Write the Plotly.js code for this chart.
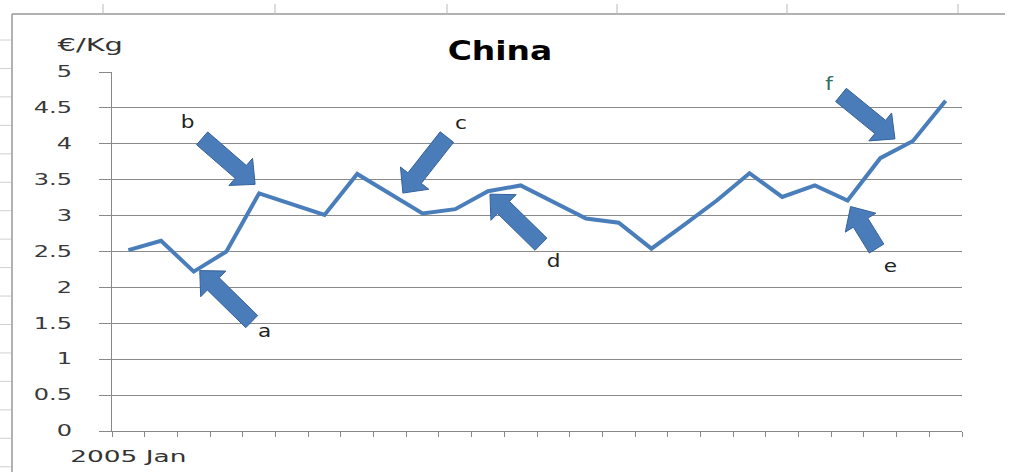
<!DOCTYPE html>
<html>
<head>
<meta charset="utf-8">
<script src="https://cdn.plot.ly/plotly-3.0.1.min.js"></script>
<style>
  html, body { margin: 0; padding: 0; background: #ffffff; }
  #chart { width: 1018px; height: 472px; }
</style>
</head>
<body>
<div id="chart"></div>
<script>
// ---- data ----
const months = [
  "2005 Jan","2005 Feb","2005 Mar","2005 Apr","2005 May","2005 Jun",
  "2005 Jul","2005 Aug","2005 Sep","2005 Oct","2005 Nov","2005 Dec",
  "2006 Jan","2006 Feb","2006 Mar","2006 Apr","2006 May","2006 Jun",
  "2006 Jul","2006 Aug","2006 Sep","2006 Oct","2006 Nov","2006 Dec",
  "2007 Jan","2007 Feb"
];
const priceEurPerKg = [
  2.52, 2.65, 2.22, 2.50, 3.31, 3.16, 3.01, 3.58, 3.30, 3.03,
  3.09, 3.34, 3.42, 3.19, 2.96, 2.90, 2.54, 2.87, 3.21, 3.59,
  3.26, 3.42, 3.21, 3.80, 4.04, 4.60
];
const tickLabels = months.map((m, i) => i === 0 ? m : "");
const yTickVals = [0, 0.5, 1, 1.5, 2, 2.5, 3, 3.5, 4, 4.5, 5];
const chartTitle = "China";
const unitLabel = "€/Kg";
const markLetters = ["a", "b", "c", "d", "e", "f"];
const markIndex = [2, 4, 8, 11, 22, 24];

// ---- layout geometry ----
const W = 1018, H = 472, ML = 112, MR = 56, MT = 72, MB = 41;
const pxX = px => (px - ML) / (W - ML - MR);
const pxY = py => (H - MB - py) / (H - MT - MB);

// block-arrow placement: tip and tail offsets (pixels) from the pointed data point
const arrowStyle = [
  { tip: [6, -1],   tail: [58, 50],    lx: 264, ly: 330, color: "#222" },
  { tip: [-4, -9],  tail: [-57, -55],  lx: 187, ly: 121, color: "#222" },
  { tip: [13, -1],  tail: [57, -57],   lx: 461, ly: 123, color: "#222" },
  { tip: [2, 3],    tail: [53, 53],    lx: 553, ly: 260, color: "#222" },
  { tip: [3, 6],    tail: [29, 48],    lx: 890, ly: 265, color: "#222" },
  { tip: [-18, -2], tail: [-72, -46],  lx: 829, ly: 83,  color: "#2E6F62" }
];
const SHAFT_HALF = 8.5, HEAD_HALF = 18, HEAD_LEN = 19;

const annotations = [];
markLetters.forEach((letter, k) => {
  const s = arrowStyle[k];
  annotations.push({
    x: pxX(s.lx), y: pxY(s.ly), xref: "paper", yref: "paper",
    text: letter, showarrow: false, xanchor: "center", yanchor: "middle",
    font: { family: "DejaVu Sans", size: 18, color: s.color }
  });
});
annotations.push({
  x: pxX(90), y: pxY(45), xref: "paper", yref: "paper",
  text: unitLabel, showarrow: false, xanchor: "center", yanchor: "middle",
  font: { family: "DejaVu Sans", size: 17, color: "#333" }
});

// spreadsheet background lines (decoration)
const baseShapes = [];
baseShapes.push({ type: "line", xref: "paper", yref: "paper",
  x0: pxX(12), x1: pxX(1005), y0: pxY(14), y1: pxY(14),
  line: { color: "#999", width: 1.5 } });
baseShapes.push({ type: "line", xref: "paper", yref: "paper",
  x0: pxX(12), x1: pxX(12), y0: pxY(14), y1: pxY(472),
  line: { color: "#999", width: 1.5 } });
[103, 275, 447, 617, 787, 958].forEach(px => baseShapes.push({
  type: "line", xref: "paper", yref: "paper",
  x0: pxX(px), x1: pxX(px), y0: pxY(4), y1: pxY(14),
  line: { color: "#b8b8b8", width: 1 } }));
for (let k = 0; k < 16; k++) {
  const py = 40 + k * 28.45;
  baseShapes.push({ type: "line", xref: "paper", yref: "paper",
    x0: pxX(0), x1: pxX(11), y0: pxY(py), y1: pxY(py),
    line: { color: "#d0d0d0", width: 1 } });
}

const trace = {
  x: months, y: priceEurPerKg, type: "scatter", mode: "lines",
  line: { color: "#4A7EBB", width: 4, shape: "linear" },
  hoverinfo: "x+y"
};

const layout = {
  width: W, height: H,
  margin: { l: ML, r: MR, t: MT, b: MB, pad: 0 },
  paper_bgcolor: "#ffffff", plot_bgcolor: "#ffffff",
  showlegend: false,
  title: {
    text: "<b>" + chartTitle + "</b>",
    font: { family: "DejaVu Sans", size: 27, color: "#000" },
    xref: "container", yref: "container",
    x: 500 / W, y: 1 - 51 / H, xanchor: "center", yanchor: "middle"
  },
  xaxis: {
    type: "category", range: [-0.5, 25.5],
    tickmode: "array", tickvals: months, ticktext: tickLabels, tickangle: 0,
    tickson: "boundaries", ticks: "outside", ticklen: 5, tickcolor: "#888",
    showgrid: false, showline: true, linecolor: "#888", linewidth: 1,
    tickfont: { family: "DejaVu Sans", size: 16, color: "#333" },
    ticklabelstandoff: 11, zeroline: false, fixedrange: true
  },
  yaxis: {
    range: [0, 5], tickmode: "array", tickvals: yTickVals,
    ticks: "outside", ticklen: 12, tickcolor: "#888",
    showgrid: true, gridcolor: "#8a8a8a", gridwidth: 1,
    showline: true, linecolor: "#888", linewidth: 1,
    zeroline: false,
    tickfont: { family: "DejaVu Sans", size: 15, color: "#3a3a3a" },
    ticklabelstandoff: 24, fixedrange: true
  },
  annotations: annotations,
  shapes: baseShapes
};

function stretch(el, factor) {
  const len = el.getComputedTextLength();
  if (len > 0) {
    el.setAttribute("textLength", (len * factor).toFixed(1));
    el.setAttribute("lengthAdjust", "spacingAndGlyphs");
  }
}

const gd = document.getElementById("chart");
Plotly.newPlot(gd, [trace], layout, { displayModeBar: false, staticPlot: true })
.then(() => {
  const xa = gd._fullLayout.xaxis, ya = gd._fullLayout.yaxis;
  const toPaperX = px => (px - xa._offset) / xa._length;
  const toPaperY = py => 1 - (py - ya._offset) / ya._length;
  const arrowShapes = markIndex.map((idx, k) => {
    const s = arrowStyle[k];
    const px = xa._offset + xa.l2p(idx);
    const py = ya._offset + ya.l2p(priceEurPerKg[idx]);
    const T = [px + s.tip[0], py + s.tip[1]];
    const S = [px + s.tail[0], py + s.tail[1]];
    const dx = T[0] - S[0], dy = T[1] - S[1];
    const L = Math.hypot(dx, dy);
    const u = [dx / L, dy / L], n = [-u[1], u[0]];
    const B = [T[0] - u[0] * HEAD_LEN, T[1] - u[1] * HEAD_LEN];
    const pts = [
      [S[0] + n[0] * SHAFT_HALF, S[1] + n[1] * SHAFT_HALF],
      [B[0] + n[0] * SHAFT_HALF, B[1] + n[1] * SHAFT_HALF],
      [B[0] + n[0] * HEAD_HALF, B[1] + n[1] * HEAD_HALF],
      T,
      [B[0] - n[0] * HEAD_HALF, B[1] - n[1] * HEAD_HALF],
      [B[0] - n[0] * SHAFT_HALF, B[1] - n[1] * SHAFT_HALF],
      [S[0] - n[0] * SHAFT_HALF, S[1] - n[1] * SHAFT_HALF]
    ];
    const path = "M" + pts.map(p => toPaperX(p[0]).toFixed(5) + "," + toPaperY(p[1]).toFixed(5)).join("L") + "Z";
    return { type: "path", xref: "paper", yref: "paper", path: path,
      fillcolor: "#4A7CBA", line: { color: "#35629C", width: 1 }, layer: "above" };
  });
  return Plotly.relayout(gd, { shapes: baseShapes.concat(arrowShapes) });
})
.then(() => {
  gd.querySelectorAll(".ytick text").forEach(el => stretch(el, 1.6));
  gd.querySelectorAll(".xtick text").forEach(el => { if (el.textContent) stretch(el, 1.65); });
  gd.querySelectorAll(".gtitle").forEach(el => stretch(el, 1.22));
  gd.querySelectorAll(".annotation-text").forEach(el => {
    if (el.textContent === unitLabel) stretch(el, 1.7);
    else stretch(el, 1.2);
  });
});
</script>
</body>
</html>
